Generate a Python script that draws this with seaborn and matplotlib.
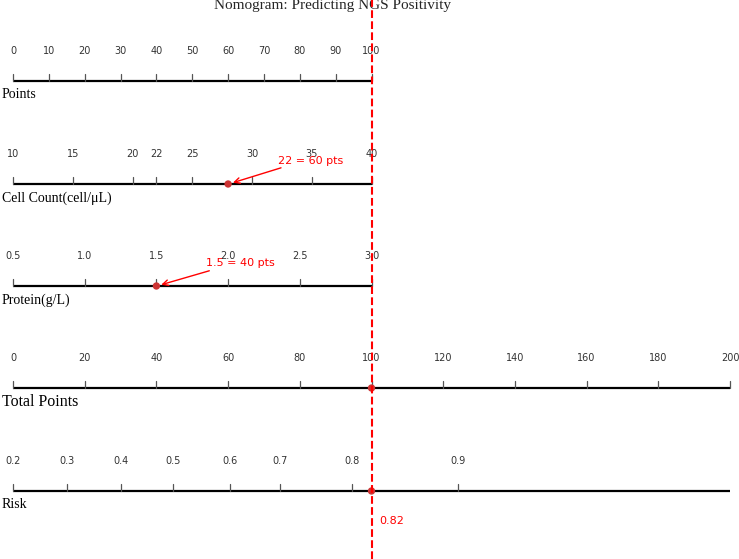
import numpy as np
import pandas as pd
import matplotlib.pyplot as plt
import seaborn as sns

# Scales of the nomogram (tick values and the points they correspond to)
points_ticks = [0, 10, 20, 30, 40, 50, 60, 70, 80, 90, 100]
cell_ticks = [10, 15, 20, 22, 25, 30, 35, 40]
cell_range = (10, 40)
protein_ticks = [0.5, 1.0, 1.5, 2.0, 2.5, 3.0]
protein_range = (0.5, 3.0)
total_ticks = [0, 20, 40, 60, 80, 100, 120, 140, 160, 180, 200]
risk_ticks = [0.2, 0.3, 0.4, 0.5, 0.6, 0.7, 0.8, 0.9]
risk_pts = [0, 15.1, 30.1, 44.6, 60.4, 74.6, 94.6, 124.1]

# Example patient
cell_pts = 60
cell_note = '22 = 60 pts'
protein_pts = 40
protein_note = '1.5 = 40 pts'
total_score = 100
risk_value = 0.82


def to_pts(v, rng):
    return (np.asarray(v, dtype=float) - rng[0]) / (rng[1] - rng[0]) * 100


sns.set_style('white')
plt.rcParams['font.family'] = ['DejaVu Sans']
serif = ['Liberation Serif', 'DejaVu Serif']

fig = plt.figure(figsize=(7.39, 5.59), dpi=100)
ax = fig.add_axes([0, 0, 1, 1])
px = 3.585  # pixels per point

# nom, positions (en points), libellés, ligne de base, taille du nom, longueur
rows = [
    ('Points', points_ticks, [str(t) for t in points_ticks], 81, 10, 100),
    ('Cell Count(cell/μL)', to_pts(cell_ticks, cell_range), [str(t) for t in cell_ticks], 184, 10, 100),
    ('Protein(g/L)', to_pts(protein_ticks, protein_range), [f'{t:.1f}' for t in protein_ticks], 286, 10, 100),
    ('Total Points', total_ticks, [str(t) for t in total_ticks], 388, 11.5, 200),
    ('Risk', risk_pts, [f'{t:.1f}' for t in risk_ticks], 491, 10, 200),
]

for name, pos, labels, yb, fs, end in rows:
    ax.plot([0, end], [yb, yb], color='black', lw=1.6, solid_capstyle='butt')
    for p, lab in zip(pos, labels):
        ax.plot([p, p], [yb - 7, yb], color='#555555', lw=0.9)
        ax.text(p, yb - 30, lab, ha='center', va='center', fontsize=7, color='#333333')
    ax.text(-3.2, yb + 14, name, ha='left', va='center', fontsize=fs,
            family=serif, color='black')

# Titre
ax.text(89, 5, 'Nomogram: Predicting NGS Positivity', ha='center', va='center',
        fontsize=11, family=serif)

# Marqueurs du patient
marks = pd.DataFrame({'x': [cell_pts, protein_pts, total_score, total_score],
                      'y': [184, 286, 388, 491]})
sns.scatterplot(data=marks, x='x', y='y', ax=ax, color='#cc3333', s=28,
                edgecolor='none', zorder=5, legend=False)

ax.annotate('', xy=(cell_pts + 0.6, 183.5), xytext=(75.5, 167),
            arrowprops=dict(arrowstyle='->', color='red', lw=1))
ax.text((311 - 13) / px, 161, cell_note, ha='center', va='center', fontsize=8, color='red')
ax.annotate('', xy=(protein_pts + 0.6, 285.5), xytext=(55.5, 270),
            arrowprops=dict(arrowstyle='->', color='red', lw=1))
ax.text((240 - 13) / px, 263, protein_note, ha='center', va='center', fontsize=8, color='red')

ax.axvline(total_score, color='red', ls='--', lw=1.5, zorder=6)
ax.text(total_score + 2.3, 521, f'{risk_value:.2f}', ha='left', va='center',
        fontsize=8, color='red')

ax.set_xlim(-13 / px, (739 - 13) / px)
ax.set_ylim(559, 0)
ax.axis('off')

fig.savefig('out.png', dpi=100)
